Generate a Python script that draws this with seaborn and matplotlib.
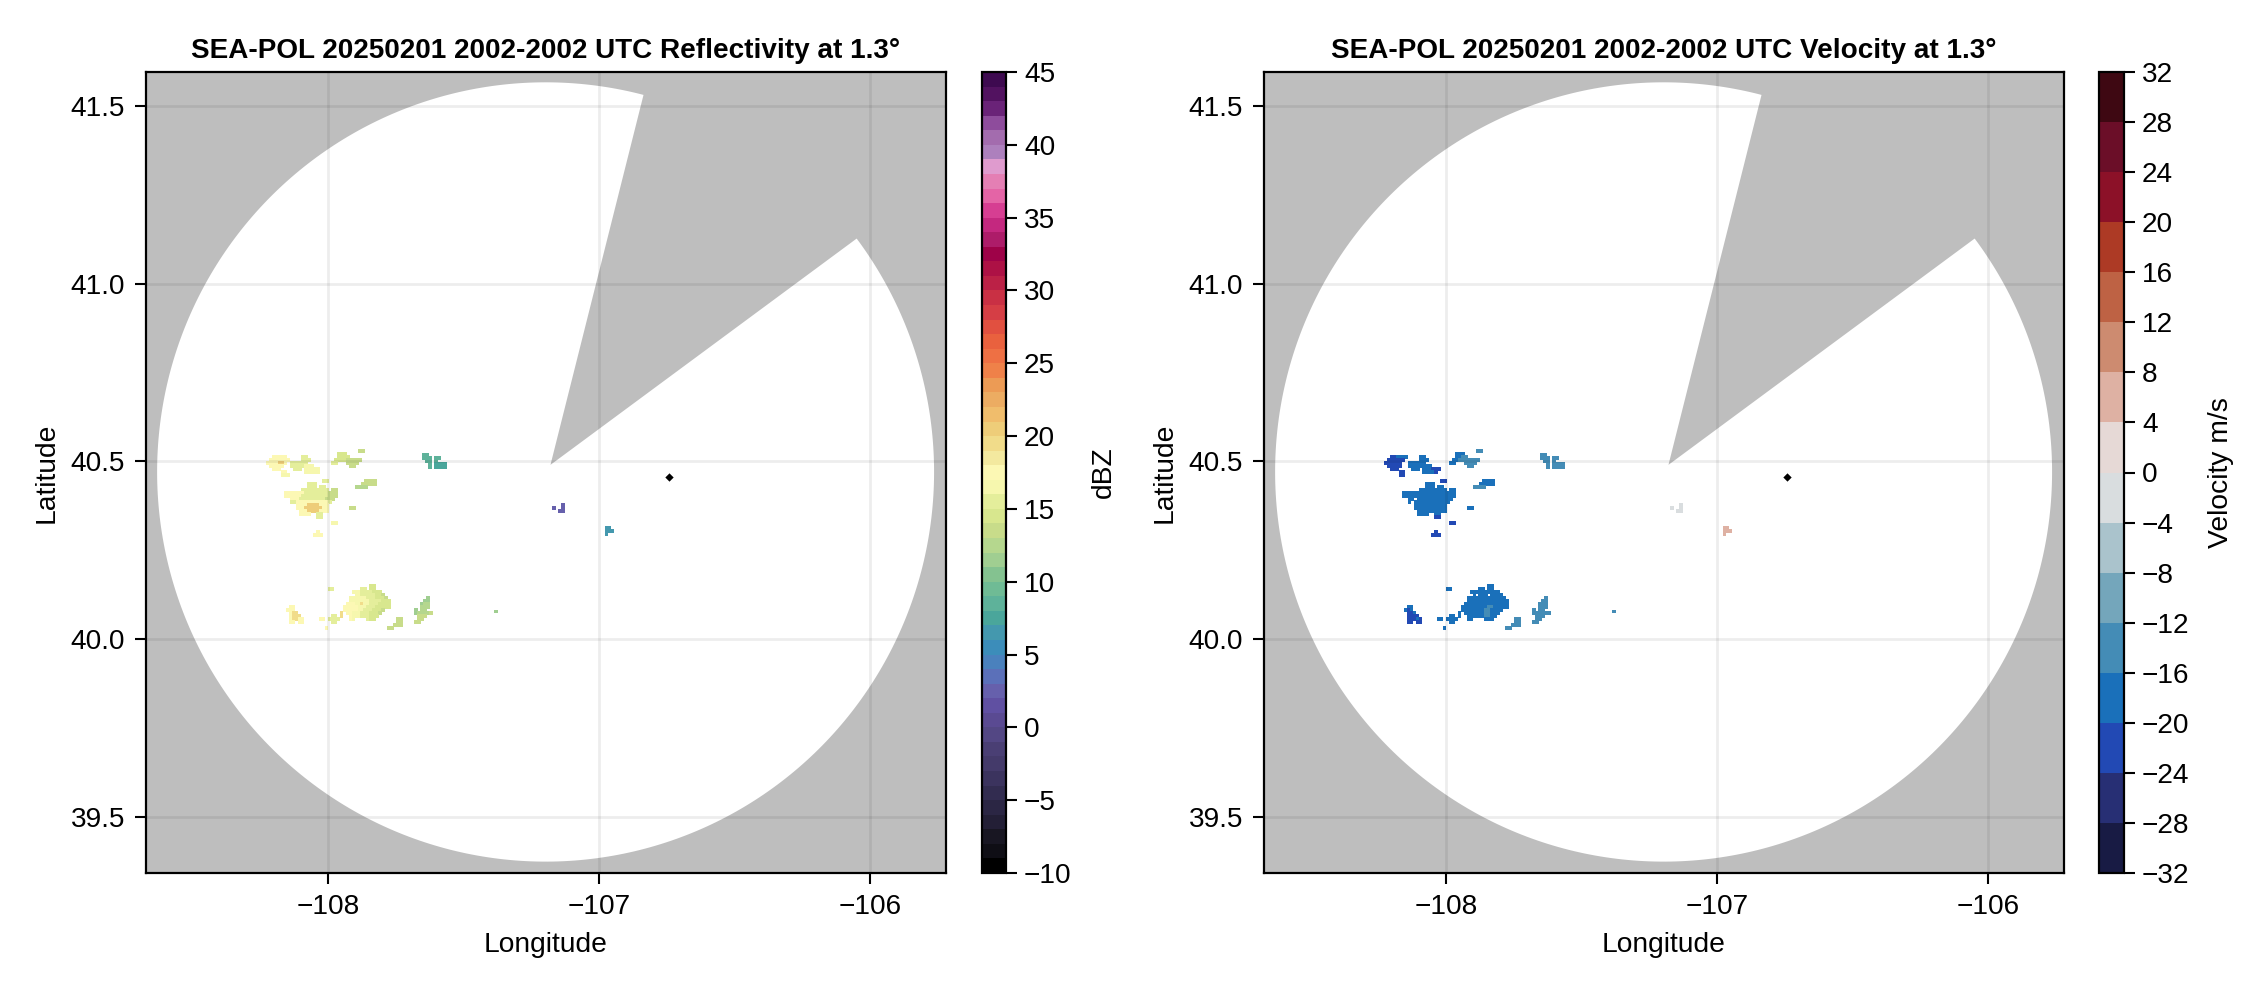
import matplotlib
matplotlib.use("Agg")
import matplotlib.pyplot as plt
from matplotlib.colors import ListedColormap, BoundaryNorm
import numpy as np
import pandas as pd
import seaborn as sns

# --- colour bins, bottom to top ---
dbz_colors = [
    "#000000", "#0f0e15", "#181622", "#231f36", "#2b2644", "#322c50", "#3b335e", "#443a6a",
    "#4a3f74", "#534784", "#5a4a92", "#6050a2", "#6660ac", "#5b70b9", "#4a81bd", "#3c8dba",
    "#4498ae", "#4aa69b", "#5eb29a", "#6fbb95", "#84c290", "#a0ce91", "#b5d78e", "#c8dc8a",
    "#d8e78e", "#e4ee9b", "#f6f7ae", "#fcf8b4", "#f3e99f", "#f1dc8a", "#eecd79", "#f0bd6c",
    "#ecac62", "#ec9b55", "#ef8149", "#ee7044", "#e9613e", "#e15040", "#d53e45", "#c93044",
    "#bb2146", "#ad1145", "#9e0248", "#ad1c69", "#c4287f", "#d63e92", "#e464a6", "#e47fb4",
    "#df9bce", "#ad80bd", "#a36cae", "#8e4c9c", "#6a2378", "#521260", "#3e0a50",
]
vel_colors = [
    "#181b44", "#272f74", "#2249b4", "#1a70ba", "#448cb6", "#74a6bb", "#aac3cc", "#d9dddf",
    "#e6d9d6", "#deb1a3", "#cd8b70", "#be6244", "#ad3a25", "#8c1128", "#6b0e28", "#3e0812",
]
dbz_ticks = [-10, -5, 0, 5, 10, 15, 20, 25, 30, 35, 40, 45]
vel_ticks = [-32, -28, -24, -20, -16, -12, -8, -4, 0, 4, 8, 12, 16, 20, 24, 28, 32]

# values behind the letters in the echo maps below
dbz_letters = {"o": 20.5, "r": 19.5, "y": 17.5, "w": 16.5, "l": 15.5, "g": 14.5, "h": 13.5,
               "m": 12.5, "n": 11.5, "s": 8.5, "k": 7.5, "j": 6.5, "p": 2.5}
vel_letters = {"d": -22, "b": -18, "t": -14, "q": -2, "e": 6}

# echo maps, one letter per radar cell
north_dbz = [
    "", "", "",
    ".................................hh",
    "..........................ggg",
    "....yyyyy.....ll..........gggg",
    "...yyyyyyy....lll........gggghhhhh",
    "..yyyyooy.llllll........ll...hhhh",
    "...yyyyy..lllllwww............hh",
    "....yyy....lll.wwwww",
    ".......yy......wwwww",
    ".......www",
    "",
    ".....................ll............hhhh",
    "................lll...............hhhhh",
    "................lll.ll..........mmmm",
    "..............lllllllll.hh",
    "........yyyyyyyllllllllhhh",
    "........yyyyyylllllllllhhh",
    "..........yyylllllllllhhh",
    "..........llyyyyyyyyyyyl",
    "............yyyyooooyyy",
    "............yyyooooooyy.......hh",
    ".............yyyooooyyy",
    ".............yyyy..ll",
    "...................ll",
    "",
    "........................ww",
    "", "",
    "...................y",
    "..................yyy",
]
north_vel = [
    "", "", "",
    ".................................tt",
    "..........................bbb",
    "....ddbbbb....bb..........bbtt",
    "...dddddd.....bbb........bbttttttt",
    "..dddddd..bbbbbb........bb...tttt",
    "...ddddd..bbbbbbbb............tt",
    "....ddd....bbb.bbbddd",
    ".......dd......bbbbd",
    ".......dd",
    "",
    ".....................dd............bbbb",
    "................bbb...............bbbbb",
    "................bbb.bb..........tttt",
    "..............bbbbbbbbb.bb",
    "........bbbbbbbbbbbbbbbbbb",
    "........bbbbbbbbbbbbbbbbbb",
    "..........bb.bbbbbbbbbbbb",
    "..........b.bbbbbbbbbbbb",
    "............bbbbbbbbbbb",
    "............bbbbbbbbbbb.......bb",
    ".............bbbbbbbbbb",
    ".............bbbb..bb",
    "...................dd",
    "",
    "........................dd",
    "", "",
    "...................d",
    "..................ddd",
]
south_dbz = [
    "", "", "",
    "..............................gg",
    "................ll.........ll.gg",
    "........................wwwllllggg",
    ".........................wwlllllggh",
    ".......................wwwwwwlllgggh.............n",
    ".......................wwwwwwwllllggg...........nn",
    "......................yyywwrwwlllgggg..........nmm",
    "...yy................yyyyywwwlllggggg..........mmm",
    "..yyy................yyyyywwlllgggh..........n.mm",
    "...yrr..............r.yywwwlllgggh...........nmmmmh",
    "...yrrr..........ll.r..ywwwlllggg.............hhh",
    "...yrryy.....yy.llll...yw....lgg.......hh.....hh",
    "...yy.yy.........ll....................hh....hh",
    "......................................hhh",
    "...............y....................hh",
]
south_vel = [
    "", "", "",
    "..............................bb",
    "................bb.........bb.bb",
    "........................bbbbbbbbbb",
    ".........................b.bbb.bbbb",
    ".......................bbbbbbbbbbbbb.............t",
    ".......................bbbbbbbbbbbbbb...........tt",
    "......................bbbbbbbbbbbbbbb..........ttt",
    "...bb................bbbbbbbbbttbbbbb..........ttt",
    "..bdb................bbbbbbbbttbbbb..........t.tt",
    "...ddb..............b.bbbbbbbttbbb...........tttttt",
    "...dddd..........bb.b..bbbbbbttbb.............ttt",
    "...dddbd.....bb.bbbb...bb....bbb.......tt.....tt",
    "...dd.dd.........bb....................tt....tt",
    "......................................ttt",
    "...............b....................tt",
]
east_dbz = ["", ".ss", ".sss.ss", "..ss.s", "...s.kkkk", "...s.kkkk"]
east_vel = ["", ".tt", ".ttt.tt", "..tt.t", "...t.tttt", "...t.tttt"]
mid_dbz = ["", "....p", ".p..p", "...pp"]
mid_vel = ["", "....q", ".q..q", "...qq"]
spot_dbz = ["", "", "..jj", "..jjj", "..j"]
spot_vel = ["", "", "..ee", "..eee", "..e"]
lone_dbz = ["n"]
lone_vel = ["t"]

# top left corner of each map, lon/lat
group_lons = [-108.253, -108.179, -107.663, -107.184, -107.0, -107.386]
group_lats = [40.559, 40.179, 40.531, 40.390, 40.334, 40.081]
group_dbz = [north_dbz, south_dbz, east_dbz, mid_dbz, spot_dbz, lone_dbz]
group_vel = [north_vel, south_vel, east_vel, mid_vel, spot_vel, lone_vel]
cell_lon = 0.01106
cell_lat = 0.00844

# radar coverage
center_lon, center_lat = -107.198, 40.47
radar_lon, radar_lat = -107.18, 40.49
reach_lon, reach_lat = 1.434, 1.096
blocked_az = (14.6, 53.2)
ship_lon, ship_lat = -106.744, 40.455
xlim = (-108.673, -105.72)
ylim = (39.342, 41.595)
x_ticks = [-108, -107, -106]
y_ticks = [39.5, 40.0, 40.5, 41.0, 41.5]


def decode(groups, letters):
    # map letters -> table of cell centres
    rows = []
    for lon0, lat0, group in zip(group_lons, group_lats, groups):
        for r, line in enumerate(group):
            for c, ch in enumerate(line):
                if ch != ".":
                    rows.append((lon0 + (c + 0.5) * cell_lon, lat0 - (r + 0.5) * cell_lat, letters[ch]))
    return pd.DataFrame(rows, columns=["lon", "lat", "value"])


def coverage():
    az = np.radians(np.linspace(blocked_az[1], 360 + blocked_az[0], 400))
    lons = np.r_[radar_lon, center_lon + reach_lon * np.sin(az)]
    lats = np.r_[radar_lat, center_lat + reach_lat * np.cos(az)]
    return lons, lats


sns.set_theme(style="ticks")
plt.rcParams["font.family"] = ["Liberation Sans", "DejaVu Sans"]
plt.rcParams["axes.unicode_minus"] = True
plt.rcParams["text.color"] = "black"
plt.rcParams["axes.labelcolor"] = "black"
plt.rcParams["axes.titlecolor"] = "black"

W, H = 2262, 990
fig = plt.figure(figsize=(W / 100, H / 100), dpi=100, facecolor="white")


def rect(x0, x1, y0=72, y1=873):
    return [x0 / W, (H - y1) / H, (x1 - x0) / W, (y1 - y0) / H]


def panel(x0, cx0, cx1, title, df, colors, ticks, bounds, clabel, cpad):
    ax = fig.add_axes(rect(x0, x0 + 800))
    cax = fig.add_axes(rect(cx0, cx1))
    cmap = ListedColormap(colors)
    norm = BoundaryNorm(bounds, cmap.N)

    ax.set_facecolor("#bebebe")
    ax.fill(*coverage(), color="white", lw=0, zorder=1)
    sns.scatterplot(data=df, x="lon", y="lat", hue="value", palette=cmap, hue_norm=norm,
                    marker="s", s=6.2, linewidth=0, legend=False, ax=ax, zorder=2)
    sns.scatterplot(x=[ship_lon], y=[ship_lat], color="black", marker="D", s=18,
                    linewidth=0, legend=False, ax=ax, zorder=4)

    ax.set_xlim(xlim)
    ax.set_ylim(ylim)
    ax.set_xticks(x_ticks)
    ax.set_yticks(y_ticks)
    ax.set_yticklabels([f"{v:.1f}" for v in y_ticks])
    ax.set_axisbelow(False)
    ax.grid(True, color="black", alpha=0.07, lw=2.0)
    ax.set_xlabel("Longitude", fontsize=20.3, labelpad=9)
    ax.set_ylabel("Latitude", fontsize=20.3, labelpad=8)
    ax.set_title(title, fontsize=20.1, fontweight="bold", pad=10)
    ax.tick_params(labelsize=20.2, length=8, width=1.5, pad=7, color="black", labelcolor="black")
    for s in ax.spines.values():
        s.set_linewidth(1.6)
        s.set_color("black")
        s.set_visible(True)
        s.set_zorder(5)

    cb = fig.colorbar(plt.cm.ScalarMappable(norm=norm, cmap=cmap), cax=cax, ticks=ticks,
                      spacing="proportional")
    cb.minorticks_off()
    cb.outline.set_linewidth(1.6)
    cb.outline.set_edgecolor("black")
    cax.tick_params(labelsize=20.2, length=8, width=1.5, pad=5, color="black", labelcolor="black")
    cb.set_label(clabel, fontsize=20.3, labelpad=cpad)


panel(146, 982, 1006, "SEA-POL 20250201 2002-2002 UTC Reflectivity at 1.3°",
      decode(group_dbz, dbz_letters), dbz_colors, dbz_ticks, np.arange(-10, 46), "dBZ", 14)
panel(1264, 2099, 2124, "SEA-POL 20250201 2002-2002 UTC Velocity at 1.3°",
      decode(group_vel, vel_letters), vel_colors, vel_ticks, np.arange(-32, 33, 4), "Velocity m/s", 13)

fig.savefig("out.png", dpi=100, facecolor="white")
